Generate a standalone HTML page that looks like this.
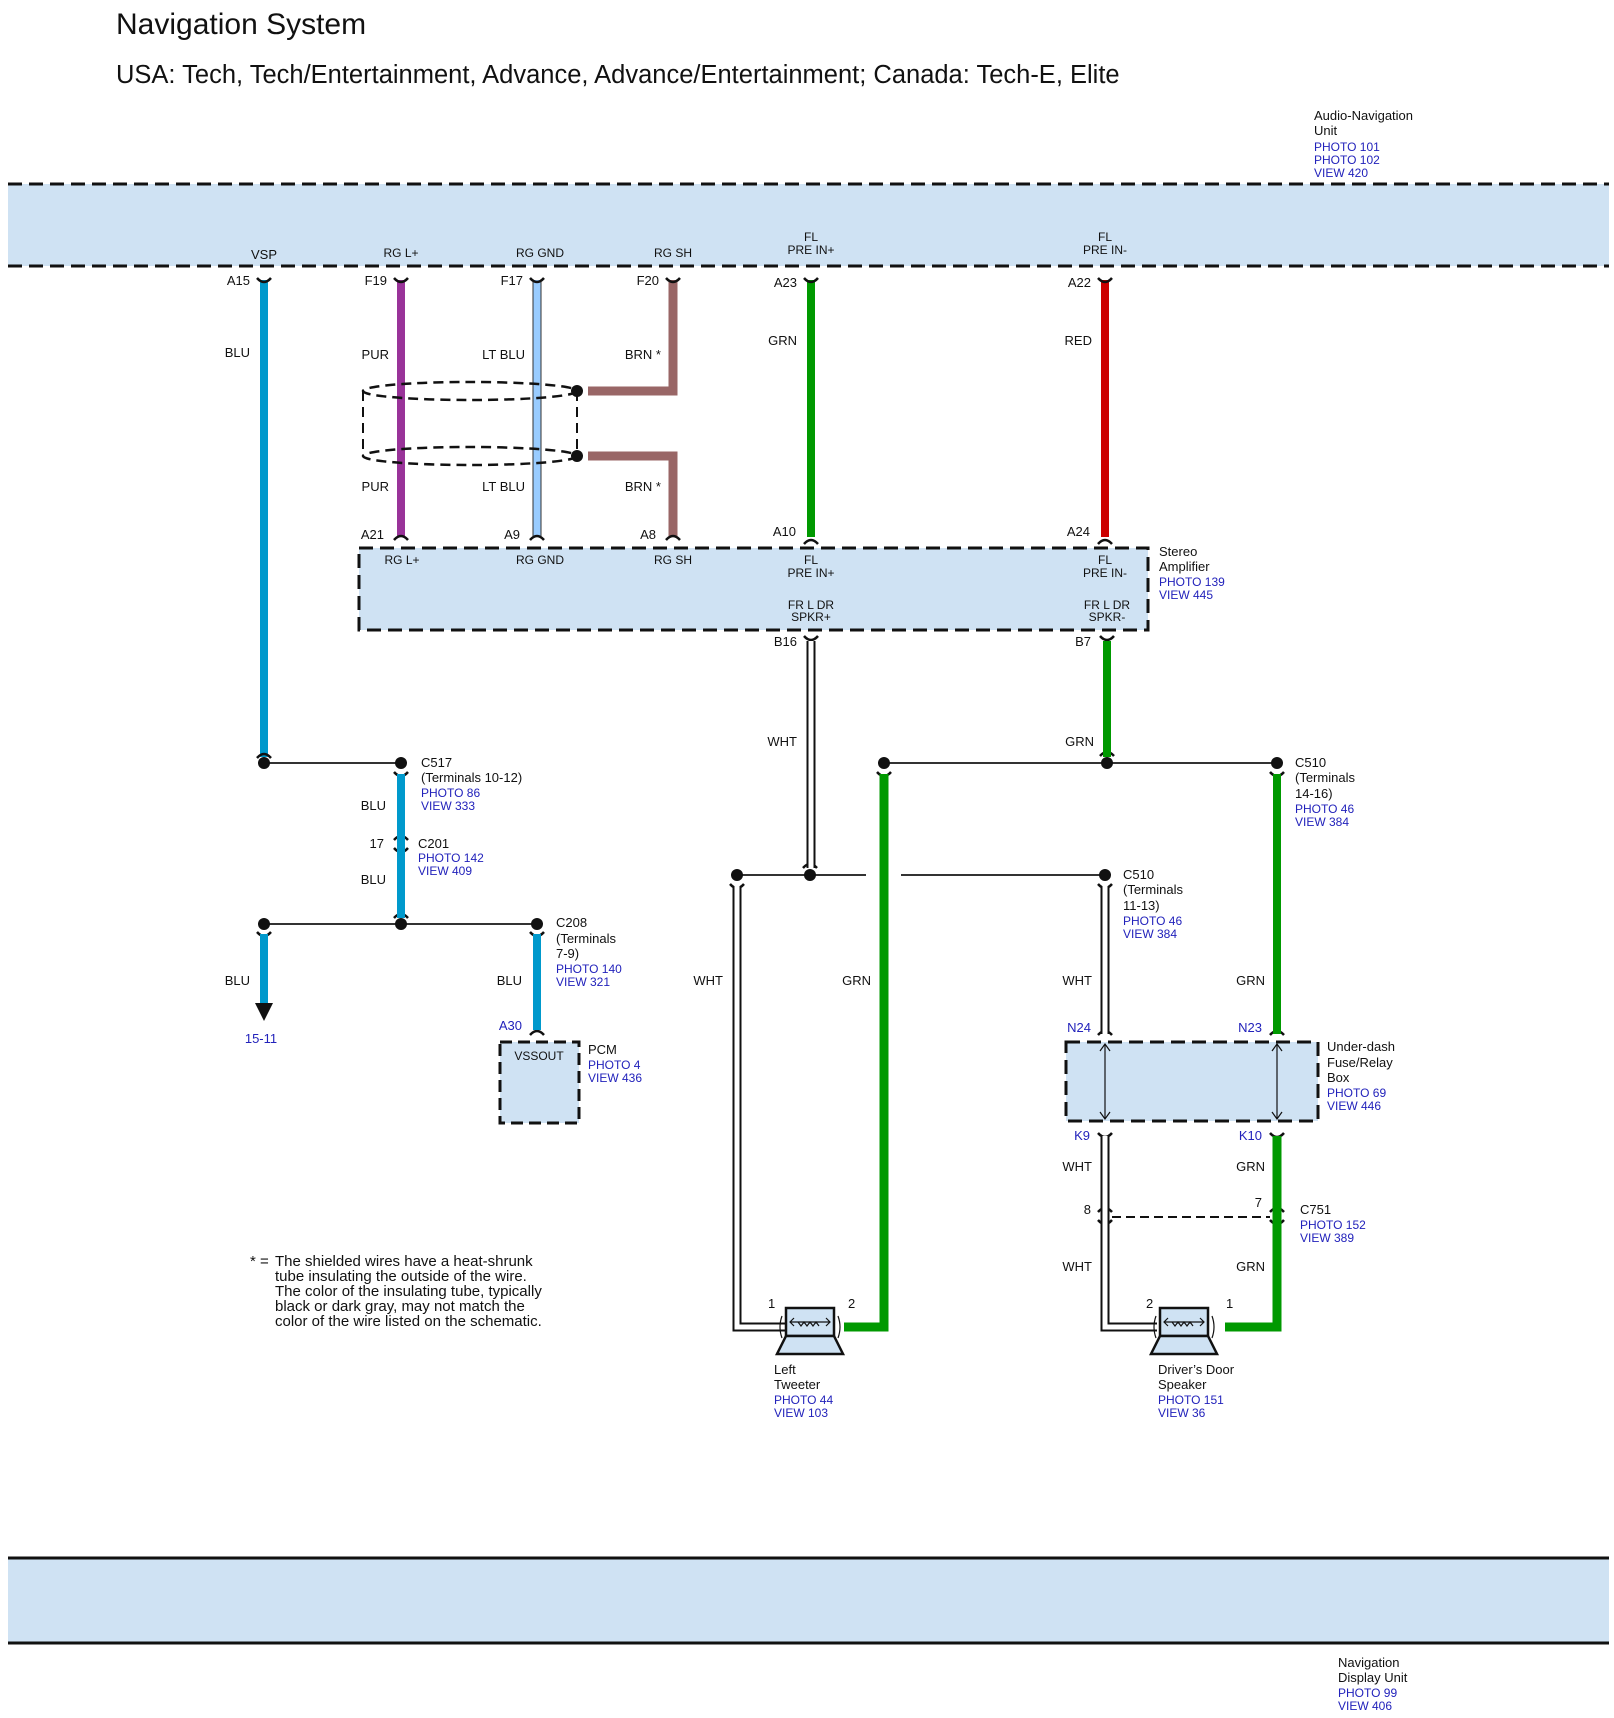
<!DOCTYPE html>
<html><head><meta charset="utf-8"><style>
html,body{margin:0;padding:0;background:#fff;}
svg{display:block;}
text{font-family:"Liberation Sans",sans-serif;fill:#111;}
.s{font-size:13px;}
.xs{font-size:12px;}
.b{fill:#2222bb;font-size:12px;}
.e{text-anchor:end;}
.m{text-anchor:middle;}
.fn{font-size:15px;}
</style></head><body>
<svg width="1614" height="1718" viewBox="0 0 1614 1718" xmlns="http://www.w3.org/2000/svg">
<text x="116" y="34" style="font-size:30px">Navigation System</text>
<text x="116" y="83" style="font-size:25.5px">USA: Tech, Tech/Entertainment, Advance, Advance/Entertainment; Canada: Tech-E, Elite</text>

<!-- top band -->
<rect x="8" y="184" width="1601" height="82" fill="#cfe2f3"/>
<line x1="8" y1="184" x2="1609" y2="184" stroke="#111" stroke-width="3" stroke-dasharray="14,7"/>
<line x1="8" y1="266" x2="1609" y2="266" stroke="#111" stroke-width="3" stroke-dasharray="14,7"/>
<text x="1314" y="120" class="s">Audio-Navigation</text>
<text x="1314" y="135" class="s">Unit</text>
<text x="1314" y="151" class="b">PHOTO 101</text>
<text x="1314" y="164" class="b">PHOTO 102</text>
<text x="1314" y="177" class="b">VIEW 420</text>

<text x="264" y="259" class="s m">VSP</text>
<text x="401" y="257" class="xs m">RG L+</text>
<text x="540" y="257" class="xs m">RG GND</text>
<text x="673" y="257" class="xs m">RG SH</text>
<text x="811" y="241" class="xs m">FL</text>
<text x="811" y="254" class="xs m">PRE IN+</text>
<text x="1105" y="241" class="xs m">FL</text>
<text x="1105" y="254" class="xs m">PRE IN-</text>

<!-- amp box -->
<rect x="359" y="548" width="789" height="82" fill="#cfe2f3" stroke="#111" stroke-width="3" stroke-dasharray="14,7"/>
<text x="402" y="564" class="xs m">RG L+</text>
<text x="540" y="564" class="xs m">RG GND</text>
<text x="673" y="564" class="xs m">RG SH</text>
<text x="811" y="564" class="xs m">FL</text>
<text x="811" y="577" class="xs m">PRE IN+</text>
<text x="1105" y="564" class="xs m">FL</text>
<text x="1105" y="577" class="xs m">PRE IN-</text>
<text x="811" y="609" class="xs m">FR L DR</text>
<text x="811" y="621" class="xs m">SPKR+</text>
<text x="1107" y="609" class="xs m">FR L DR</text>
<text x="1107" y="621" class="xs m">SPKR-</text>
<text x="1159" y="556" class="s">Stereo</text>
<text x="1159" y="571" class="s">Amplifier</text>
<text x="1159" y="586" class="b">PHOTO 139</text>
<text x="1159" y="599" class="b">VIEW 445</text>

<!-- upper wires -->
<line x1="264" y1="280" x2="264" y2="757" stroke="#0099cc" stroke-width="8"/>
<line x1="401" y1="280" x2="401" y2="537" stroke="#993399" stroke-width="8"/>
<line x1="537" y1="280" x2="537" y2="537" stroke="#333" stroke-width="9"/>
<line x1="537" y1="280" x2="537" y2="537" stroke="#99ccff" stroke-width="7"/>
<path d="M673 280 V391 H588" fill="none" stroke="#996666" stroke-width="9"/>
<path d="M588 456 H673 V537" fill="none" stroke="#996666" stroke-width="9"/>
<line x1="811" y1="280" x2="811" y2="537" stroke="#009900" stroke-width="8"/>
<line x1="1105" y1="280" x2="1105" y2="537" stroke="#cc0000" stroke-width="8"/>

<!-- shield -->
<ellipse cx="470" cy="391" rx="107" ry="9" fill="none" stroke="#111" stroke-width="2.5" stroke-dasharray="10,6"/>
<ellipse cx="470" cy="456" rx="107" ry="9" fill="none" stroke="#111" stroke-width="2.5" stroke-dasharray="10,6"/>
<line x1="363" y1="391" x2="363" y2="456" stroke="#111" stroke-width="2" stroke-dasharray="10,6"/>
<line x1="577" y1="391" x2="577" y2="456" stroke="#111" stroke-width="2" stroke-dasharray="10,6"/>
<circle cx="577" cy="391" r="6" fill="#111"/>
<circle cx="577" cy="456" r="6" fill="#111"/>

<!-- pin labels upper -->
<text x="250" y="285" class="s e">A15</text>
<text x="387" y="285" class="s e">F19</text>
<text x="523" y="285" class="s e">F17</text>
<text x="659" y="285" class="s e">F20</text>
<text x="797" y="287" class="s e">A23</text>
<text x="1091" y="287" class="s e">A22</text>
<text x="250" y="357" class="s e">BLU</text>
<text x="389" y="359" class="s e">PUR</text>
<text x="525" y="359" class="s e">LT BLU</text>
<text x="661" y="359" class="s e">BRN *</text>
<text x="797" y="345" class="s e">GRN</text>
<text x="1092" y="345" class="s e">RED</text>
<text x="389" y="491" class="s e">PUR</text>
<text x="525" y="491" class="s e">LT BLU</text>
<text x="661" y="491" class="s e">BRN *</text>
<text x="384" y="539" class="s e">A21</text>
<text x="520" y="539" class="s e">A9</text>
<text x="656" y="539" class="s e">A8</text>
<text x="796" y="536" class="s e">A10</text>
<text x="1090" y="536" class="s e">A24</text>
<text x="797" y="646" class="s e">B16</text>
<text x="1091" y="646" class="s e">B7</text>

<!-- connector cups -->
<g fill="none" stroke="#111" stroke-width="2.5">
<path d="M257 278 Q264 286 271 278"/><path d="M394 278 Q401 286 408 278"/><path d="M530 278 Q537 286 544 278"/><path d="M666 278 Q673 286 680 278"/><path d="M804 278 Q811 286 818 278"/><path d="M1098 278 Q1105 286 1112 278"/>
<path d="M394 540 Q401 532 408 540"/><path d="M530 540 Q537 532 544 540"/><path d="M666 540 Q673 532 680 540"/><path d="M804 544 Q811 536 818 544"/><path d="M1098 544 Q1105 536 1112 544"/>
<path d="M804 636 Q811 644 818 636"/><path d="M1100 636 Q1107 644 1114 636"/>
<path d="M257 758 Q264 750 271 758"/><path d="M1100 756 Q1107 748 1114 756"/>
<path d="M394 772 Q401 780 408 772"/><path d="M877 772 Q884 780 891 772"/><path d="M1270 772 Q1277 780 1284 772"/>
<path d="M394 840 Q401 832 408 840"/><path d="M394 848 Q401 856 408 848"/>
<path d="M394 918 Q401 910 408 918"/><path d="M257 932 Q264 940 271 932"/><path d="M530 932 Q537 940 544 932"/>
<path d="M803 868 Q810 860 817 868"/><path d="M730 884 Q737 892 744 884"/><path d="M1098 884 Q1105 892 1112 884"/>
<path d="M1098 1035 Q1105 1027 1112 1035"/><path d="M1270 1035 Q1277 1027 1284 1035"/>
<path d="M530 1035 Q537 1027 544 1035"/>
<path d="M1098 1133 Q1105 1141 1112 1133"/><path d="M1270 1133 Q1277 1141 1284 1133"/>
<path d="M1098 1212 Q1105 1204 1112 1212"/><path d="M1098 1220 Q1105 1228 1112 1220"/>
<path d="M1270 1212 Q1277 1204 1284 1212"/><path d="M1270 1220 Q1277 1228 1284 1220"/>
</g>

<!-- WHT wire B16 -->
<line x1="811" y1="641" x2="811" y2="868" stroke="#111" stroke-width="9"/>
<line x1="811" y1="641" x2="811" y2="868" stroke="#fff" stroke-width="5"/>
<!-- GRN B7 -->
<line x1="1107" y1="641" x2="1107" y2="757" stroke="#009900" stroke-width="8"/>
<text x="797" y="746" class="s e">WHT</text>
<text x="1094" y="746" class="s e">GRN</text>

<!-- junction row 763 -->
<line x1="264" y1="763" x2="401" y2="763" stroke="#333" stroke-width="2"/>
<line x1="884" y1="763" x2="1277" y2="763" stroke="#333" stroke-width="2"/>
<circle cx="264" cy="763" r="6" fill="#111"/><circle cx="401" cy="763" r="6" fill="#111"/>
<circle cx="884" cy="763" r="6" fill="#111"/><circle cx="1107" cy="763" r="6" fill="#111"/><circle cx="1277" cy="763" r="6" fill="#111"/>

<path d="M884 774 V1327 H844" fill="none" stroke="#009900" stroke-width="9"/>
<line x1="1277" y1="774" x2="1277" y2="1034" stroke="#009900" stroke-width="8"/>
<path d="M1277 1136 V1327 H1225" fill="none" stroke="#009900" stroke-width="9"/>

<!-- WHT row 875 -->
<line x1="737" y1="875" x2="866" y2="875" stroke="#333" stroke-width="2"/>
<line x1="901" y1="875" x2="1105" y2="875" stroke="#333" stroke-width="2"/>
<circle cx="737" cy="875" r="6" fill="#111"/><circle cx="810" cy="875" r="6" fill="#111"/><circle cx="1105" cy="875" r="6" fill="#111"/>
<path d="M737 886 V1327 H786" fill="none" stroke="#111" stroke-width="9"/>
<path d="M737 886 V1327 H786" fill="none" stroke="#fff" stroke-width="5"/>
<line x1="1105" y1="886" x2="1105" y2="1034" stroke="#111" stroke-width="9"/>
<line x1="1105" y1="886" x2="1105" y2="1034" stroke="#fff" stroke-width="5"/>
<path d="M1105 1136 V1327 H1157" fill="none" stroke="#111" stroke-width="9"/>
<path d="M1105 1136 V1327 H1157" fill="none" stroke="#fff" stroke-width="5"/>
<line x1="1112" y1="1217" x2="1270" y2="1217" stroke="#111" stroke-width="2" stroke-dasharray="9,5"/>

<!-- BLU lower -->
<line x1="401" y1="774" x2="401" y2="918" stroke="#0099cc" stroke-width="8"/>
<line x1="264" y1="924" x2="537" y2="924" stroke="#333" stroke-width="2"/>
<circle cx="264" cy="924" r="6" fill="#111"/><circle cx="401" cy="924" r="6" fill="#111"/><circle cx="537" cy="924" r="6" fill="#111"/>
<line x1="264" y1="934" x2="264" y2="1003" stroke="#0099cc" stroke-width="8"/>
<polygon points="255,1003 273,1003 264,1021" fill="#111"/>
<line x1="537" y1="934" x2="537" y2="1030" stroke="#0099cc" stroke-width="8"/>
<rect x="500" y="1042" width="79" height="81" fill="#cfe2f3" stroke="#111" stroke-width="3" stroke-dasharray="12,6"/>

<!-- fuse box -->
<rect x="1066" y="1042" width="252" height="79" fill="#cfe2f3" stroke="#111" stroke-width="3" stroke-dasharray="14,7"/>
<g stroke="#111" stroke-width="1.2" fill="none">
<line x1="1105" y1="1044" x2="1105" y2="1119"/><path d="M1100 1051 L1105 1044 L1110 1051 M1100 1112 L1105 1119 L1110 1112"/>
<line x1="1277" y1="1044" x2="1277" y2="1119"/><path d="M1272 1051 L1277 1044 L1282 1051 M1272 1112 L1277 1119 L1282 1112"/>
</g>

<!-- speakers -->
<g stroke="#111" stroke-width="2.5" fill="#cfe2f3">
<rect x="786" y="1308" width="48" height="28"/>
<polygon points="786,1336 834,1336 843,1354 777,1354"/>
<rect x="1160" y="1308" width="48" height="28"/>
<polygon points="1160,1336 1208,1336 1217,1354 1151,1354"/>
</g>
<g stroke="#111" stroke-width="1.2" fill="none">
<path d="M790 1322 H830 M794 1318 L790 1322 L794 1326 M826 1318 L830 1322 L826 1326 M798 1322 l3 4 l3 -4 l3 4 l3 -4 l3 4 l3 -4 l3 4"/>
<path d="M1164 1322 H1204 M1168 1318 L1164 1322 L1168 1326 M1200 1318 L1204 1322 L1200 1326 M1172 1322 l3 4 l3 -4 l3 4 l3 -4 l3 4 l3 -4 l3 4"/>
<path d="M782 1316 Q778 1327 782 1338 M838 1316 Q842 1327 838 1338 M1156 1316 Q1152 1327 1156 1338 M1212 1316 Q1216 1327 1212 1338"/>
</g>

<!-- labels lower -->
<text x="421" y="767" class="s">C517</text>
<text x="421" y="782" class="s">(Terminals 10-12)</text>
<text x="421" y="797" class="b">PHOTO 86</text>
<text x="421" y="810" class="b">VIEW 333</text>
<text x="386" y="810" class="s e">BLU</text>
<text x="384" y="848" class="s e">17</text>
<text x="418" y="848" class="s">C201</text>
<text x="418" y="862" class="b">PHOTO 142</text>
<text x="418" y="875" class="b">VIEW 409</text>
<text x="386" y="884" class="s e">BLU</text>
<text x="556" y="927" class="s">C208</text>
<text x="556" y="943" class="s">(Terminals</text>
<text x="556" y="958" class="s">7-9)</text>
<text x="556" y="973" class="b">PHOTO 140</text>
<text x="556" y="986" class="b">VIEW 321</text>
<text x="250" y="985" class="s e">BLU</text>
<text x="522" y="985" class="s e">BLU</text>
<text x="261" y="1043" class="s m" style="fill:#2222bb">15-11</text>
<text x="522" y="1030" class="s e" style="fill:#2222bb">A30</text>
<text x="539" y="1060" class="xs m">VSSOUT</text>
<text x="588" y="1054" class="s">PCM</text>
<text x="588" y="1069" class="b">PHOTO 4</text>
<text x="588" y="1082" class="b">VIEW 436</text>

<text x="723" y="985" class="s e">WHT</text>
<text x="871" y="985" class="s e">GRN</text>
<text x="1092" y="985" class="s e">WHT</text>
<text x="1265" y="985" class="s e">GRN</text>
<text x="1123" y="879" class="s">C510</text>
<text x="1123" y="894" class="s">(Terminals</text>
<text x="1123" y="910" class="s">11-13)</text>
<text x="1123" y="925" class="b">PHOTO 46</text>
<text x="1123" y="938" class="b">VIEW 384</text>
<text x="1295" y="767" class="s">C510</text>
<text x="1295" y="782" class="s">(Terminals</text>
<text x="1295" y="798" class="s">14-16)</text>
<text x="1295" y="813" class="b">PHOTO 46</text>
<text x="1295" y="826" class="b">VIEW 384</text>
<text x="1091" y="1032" class="s e" style="fill:#2222bb">N24</text>
<text x="1262" y="1032" class="s e" style="fill:#2222bb">N23</text>
<text x="1327" y="1051" class="s">Under-dash</text>
<text x="1327" y="1067" class="s">Fuse/Relay</text>
<text x="1327" y="1082" class="s">Box</text>
<text x="1327" y="1097" class="b">PHOTO 69</text>
<text x="1327" y="1110" class="b">VIEW 446</text>
<text x="1090" y="1140" class="s e" style="fill:#2222bb">K9</text>
<text x="1262" y="1140" class="s e" style="fill:#2222bb">K10</text>
<text x="1092" y="1171" class="s e">WHT</text>
<text x="1265" y="1171" class="s e">GRN</text>
<text x="1091" y="1214" class="s e">8</text>
<text x="1262" y="1207" class="s e">7</text>
<text x="1300" y="1214" class="s">C751</text>
<text x="1300" y="1229" class="b">PHOTO 152</text>
<text x="1300" y="1242" class="b">VIEW 389</text>
<text x="1092" y="1271" class="s e">WHT</text>
<text x="1265" y="1271" class="s e">GRN</text>
<text x="768" y="1308" class="s">1</text>
<text x="848" y="1308" class="s">2</text>
<text x="1146" y="1308" class="s">2</text>
<text x="1226" y="1308" class="s">1</text>
<text x="774" y="1374" class="s">Left</text>
<text x="774" y="1389" class="s">Tweeter</text>
<text x="774" y="1404" class="b">PHOTO 44</text>
<text x="774" y="1417" class="b">VIEW 103</text>
<text x="1158" y="1374" class="s">Driver’s Door</text>
<text x="1158" y="1389" class="s">Speaker</text>
<text x="1158" y="1404" class="b">PHOTO 151</text>
<text x="1158" y="1417" class="b">VIEW 36</text>

<text x="250" y="1266" class="fn">* =</text>
<text x="275" y="1266" class="fn">The shielded wires have a heat-shrunk</text>
<text x="275" y="1281" class="fn">tube insulating the outside of the wire.</text>
<text x="275" y="1296" class="fn">The color of the insulating tube, typically</text>
<text x="275" y="1311" class="fn">black or dark gray, may not match the</text>
<text x="275" y="1326" class="fn">color of the wire listed on the schematic.</text>

<!-- bottom band -->
<rect x="8" y="1558" width="1601" height="85" fill="#cfe2f3"/>
<line x1="8" y1="1558" x2="1609" y2="1558" stroke="#111" stroke-width="3"/>
<line x1="8" y1="1643" x2="1609" y2="1643" stroke="#111" stroke-width="3"/>
<text x="1338" y="1667" class="s">Navigation</text>
<text x="1338" y="1682" class="s">Display Unit</text>
<text x="1338" y="1697" class="b">PHOTO 99</text>
<text x="1338" y="1710" class="b">VIEW 406</text>
</svg>
</body></html>
